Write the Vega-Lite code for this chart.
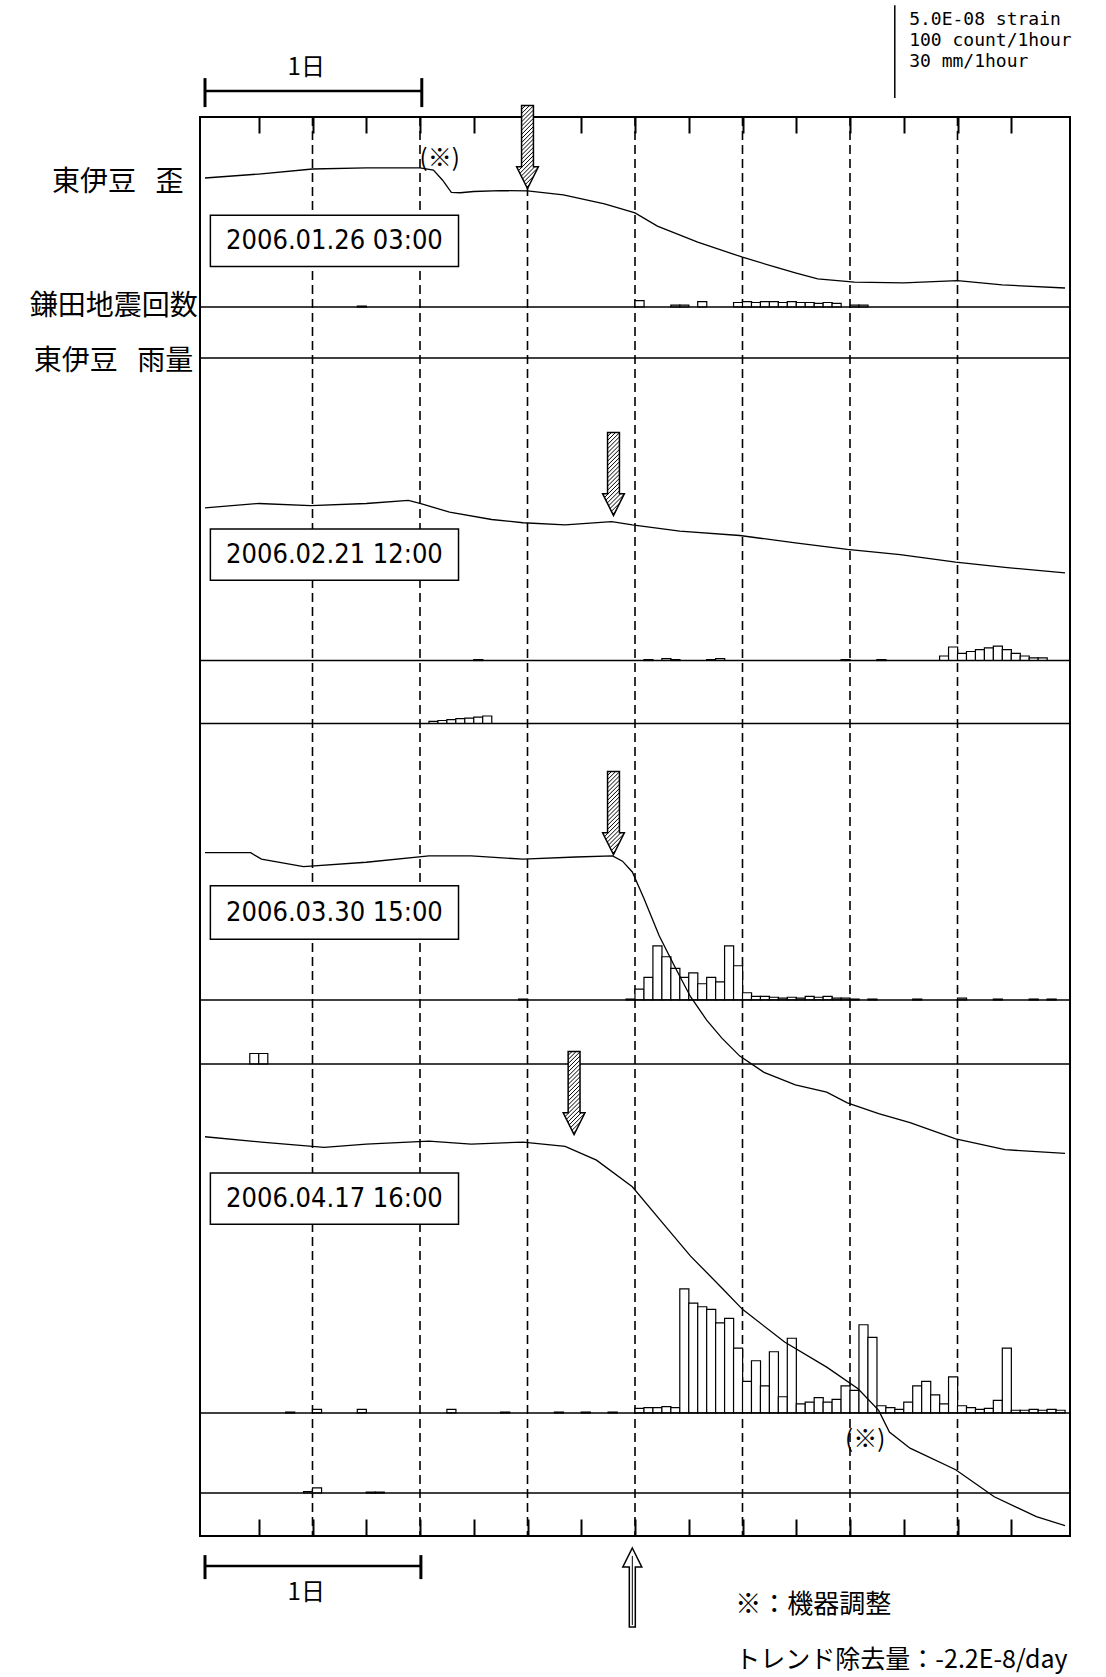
{
"$schema":"https://vega.github.io/schema/vega-lite/v6.json",
"width":870,"height":1419,
"autosize":{"type":"none"},
"padding":{"left":200,"top":117,"right":36,"bottom":141},
"background":"white",
"config":{"view":{"stroke":"black","strokeWidth":2},"text":{"font":"Noto Sans CJK JP","color":"black"}},
"datasets":{
"grid":[{"h":12},{"h":24},{"h":36},{"h":48},{"h":60},{"h":72},{"h":84}],
"strain":[
{"ep":1,"h":0,"s":0},{"ep":1,"h":6,"s":0.22},{"ep":1,"h":12,"s":0.5},{"ep":1,"h":18,"s":0.56},{"ep":1,"h":24,"s":0.56},{"ep":1,"h":25.5,"s":0.44},{"ep":1,"h":26.5,"s":-0.11},{"ep":1,"h":27.5,"s":-0.8},{"ep":1,"h":28.5,"s":-0.82},{"ep":1,"h":30,"s":-0.75},{"ep":1,"h":33,"s":-0.7},{"ep":1,"h":36,"s":-0.72},{"ep":1,"h":40,"s":-0.94},{"ep":1,"h":44.6,"s":-1.44},{"ep":1,"h":48,"s":-1.94},{"ep":1,"h":50.5,"s":-2.67},{"ep":1,"h":55,"s":-3.56},{"ep":1,"h":60,"s":-4.4},{"ep":1,"h":63.6,"s":-4.94},{"ep":1,"h":66,"s":-5.28},{"ep":1,"h":68.4,"s":-5.6},{"ep":1,"h":72.5,"s":-5.78},{"ep":1,"h":78,"s":-5.83},{"ep":1,"h":84,"s":-5.7},{"ep":1,"h":89,"s":-5.94},{"ep":1,"h":96,"s":-6.11},
{"ep":2,"h":0,"s":0},{"ep":2,"h":6,"s":0.24},{"ep":2,"h":11.8,"s":0.12},{"ep":2,"h":18,"s":0.24},{"ep":2,"h":22.7,"s":0.41},{"ep":2,"h":24,"s":0.24},{"ep":2,"h":27.3,"s":-0.24},{"ep":2,"h":32,"s":-0.65},{"ep":2,"h":35.5,"s":-0.83},{"ep":2,"h":40.2,"s":-0.95},{"ep":2,"h":45.4,"s":-0.77},{"ep":2,"h":47.7,"s":-0.95},{"ep":2,"h":53,"s":-1.3},{"ep":2,"h":59.7,"s":-1.54},{"ep":2,"h":65.9,"s":-1.95},{"ep":2,"h":71.7,"s":-2.31},{"ep":2,"h":77.6,"s":-2.6},{"ep":2,"h":83.8,"s":-3.02},{"ep":2,"h":89.3,"s":-3.31},{"ep":2,"h":96,"s":-3.61},
{"ep":3,"h":0,"s":0},{"ep":3,"h":5.1,"s":0},{"ep":3,"h":6.3,"s":-0.36},{"ep":3,"h":11,"s":-0.77},{"ep":3,"h":18,"s":-0.53},{"ep":3,"h":25,"s":-0.18},{"ep":3,"h":29.7,"s":-0.18},{"ep":3,"h":35.5,"s":-0.36},{"ep":3,"h":41.4,"s":-0.24},{"ep":3,"h":45.5,"s":-0.18},{"ep":3,"h":46.6,"s":-0.47},{"ep":3,"h":47.7,"s":-1.07},{"ep":3,"h":49,"s":-2.54},{"ep":3,"h":50.7,"s":-4.62},{"ep":3,"h":52.5,"s":-6.39},{"ep":3,"h":54.2,"s":-8.0},{"ep":3,"h":56,"s":-9.3},{"ep":3,"h":57.7,"s":-10.3},{"ep":3,"h":59.7,"s":-11.3},{"ep":3,"h":62.4,"s":-12.2},{"ep":3,"h":65.9,"s":-12.9},{"ep":3,"h":69.4,"s":-13.3},{"ep":3,"h":71.7,"s":-13.9},{"ep":3,"h":75.2,"s":-14.5},{"ep":3,"h":78.7,"s":-15.0},{"ep":3,"h":83.8,"s":-15.9},{"ep":3,"h":89.3,"s":-16.5},{"ep":3,"h":96,"s":-16.7},
{"ep":4,"h":0,"s":0},{"ep":4,"h":6.3,"s":-0.3},{"ep":4,"h":13.3,"s":-0.59},{"ep":4,"h":18,"s":-0.41},{"ep":4,"h":25,"s":-0.24},{"ep":4,"h":29.7,"s":-0.41},{"ep":4,"h":35.5,"s":-0.3},{"ep":4,"h":40.2,"s":-0.53},{"ep":4,"h":43.7,"s":-1.3},{"ep":4,"h":47.7,"s":-2.78},{"ep":4,"h":50.7,"s":-4.56},{"ep":4,"h":54.2,"s":-6.63},{"ep":4,"h":57.7,"s":-8.4},{"ep":4,"h":60,"s":-9.59},{"ep":4,"h":64.7,"s":-11.4},{"ep":4,"h":69.4,"s":-12.8},{"ep":4,"h":72.9,"s":-14.0},{"ep":4,"h":75.2,"s":-15.2},{"ep":4,"h":76.4,"s":-16.4},{"ep":4,"h":78.7,"s":-17.3},{"ep":4,"h":83.8,"s":-18.5},{"ep":4,"h":88.1,"s":-20.0},{"ep":4,"h":92.8,"s":-21.1},{"ep":4,"h":96,"s":-21.6}
],
"counts":[
{"ep":1,"h":17,"n":1},{"ep":1,"h":48,"n":7},{"ep":1,"h":52,"n":2},{"ep":1,"h":53,"n":2},{"ep":1,"h":55,"n":6},{"ep":1,"h":59,"n":5},{"ep":1,"h":60,"n":6},{"ep":1,"h":61,"n":5},{"ep":1,"h":62,"n":6},{"ep":1,"h":63,"n":6},{"ep":1,"h":64,"n":5},{"ep":1,"h":65,"n":6},{"ep":1,"h":66,"n":5},{"ep":1,"h":67,"n":5},{"ep":1,"h":68,"n":4},{"ep":1,"h":69,"n":5},{"ep":1,"h":70,"n":4},{"ep":1,"h":72,"n":2},{"ep":1,"h":73,"n":2},
{"ep":2,"h":30,"n":1},{"ep":2,"h":49,"n":1},{"ep":2,"h":51,"n":2},{"ep":2,"h":52,"n":1},{"ep":2,"h":56,"n":1},{"ep":2,"h":57,"n":2},{"ep":2,"h":71,"n":1},{"ep":2,"h":75,"n":1},{"ep":2,"h":82,"n":5},{"ep":2,"h":83,"n":15},{"ep":2,"h":84,"n":8},{"ep":2,"h":85,"n":10},{"ep":2,"h":86,"n":12},{"ep":2,"h":87,"n":14},{"ep":2,"h":88,"n":16},{"ep":2,"h":89,"n":12},{"ep":2,"h":90,"n":8},{"ep":2,"h":91,"n":5},{"ep":2,"h":92,"n":3},{"ep":2,"h":93,"n":3},
{"ep":3,"h":35,"n":1},{"ep":3,"h":47,"n":1},{"ep":3,"h":48,"n":12},{"ep":3,"h":49,"n":25},{"ep":3,"h":50,"n":60},{"ep":3,"h":51,"n":48},{"ep":3,"h":52,"n":35},{"ep":3,"h":53,"n":25},{"ep":3,"h":54,"n":30},{"ep":3,"h":55,"n":18},{"ep":3,"h":56,"n":25},{"ep":3,"h":57,"n":20},{"ep":3,"h":58,"n":60},{"ep":3,"h":59,"n":38},{"ep":3,"h":60,"n":8},{"ep":3,"h":61,"n":4},{"ep":3,"h":62,"n":4},{"ep":3,"h":63,"n":3},{"ep":3,"h":64,"n":2},{"ep":3,"h":65,"n":3},{"ep":3,"h":66,"n":2},{"ep":3,"h":67,"n":4},{"ep":3,"h":68,"n":3},{"ep":3,"h":69,"n":4},{"ep":3,"h":70,"n":2},{"ep":3,"h":71,"n":2},{"ep":3,"h":72,"n":1},{"ep":3,"h":74,"n":1},{"ep":3,"h":79,"n":1},{"ep":3,"h":84,"n":2},{"ep":3,"h":88,"n":1},{"ep":3,"h":92,"n":1},{"ep":3,"h":94,"n":1},
{"ep":4,"h":9,"n":1},{"ep":4,"h":12,"n":4},{"ep":4,"h":17,"n":4},{"ep":4,"h":27,"n":4},{"ep":4,"h":33,"n":1},{"ep":4,"h":39,"n":1},{"ep":4,"h":42,"n":1},{"ep":4,"h":45,"n":1},{"ep":4,"h":48,"n":5},{"ep":4,"h":49,"n":6},{"ep":4,"h":50,"n":6},{"ep":4,"h":51,"n":7},{"ep":4,"h":52,"n":6},{"ep":4,"h":53,"n":138},{"ep":4,"h":54,"n":122},{"ep":4,"h":55,"n":118},{"ep":4,"h":56,"n":115},{"ep":4,"h":57,"n":100},{"ep":4,"h":58,"n":105},{"ep":4,"h":59,"n":72},{"ep":4,"h":60,"n":35},{"ep":4,"h":61,"n":58},{"ep":4,"h":62,"n":30},{"ep":4,"h":63,"n":68},{"ep":4,"h":64,"n":18},{"ep":4,"h":65,"n":83},{"ep":4,"h":66,"n":10},{"ep":4,"h":67,"n":12},{"ep":4,"h":68,"n":17},{"ep":4,"h":69,"n":12},{"ep":4,"h":70,"n":15},{"ep":4,"h":71,"n":30},{"ep":4,"h":72,"n":25},{"ep":4,"h":73,"n":98},{"ep":4,"h":74,"n":84},{"ep":4,"h":75,"n":8},{"ep":4,"h":76,"n":6},{"ep":4,"h":77,"n":4},{"ep":4,"h":78,"n":12},{"ep":4,"h":79,"n":30},{"ep":4,"h":80,"n":35},{"ep":4,"h":81,"n":20},{"ep":4,"h":82,"n":10},{"ep":4,"h":83,"n":40},{"ep":4,"h":84,"n":8},{"ep":4,"h":85,"n":6},{"ep":4,"h":86,"n":4},{"ep":4,"h":87,"n":5},{"ep":4,"h":88,"n":14},{"ep":4,"h":89,"n":72},{"ep":4,"h":90,"n":3},{"ep":4,"h":91,"n":3},{"ep":4,"h":92,"n":4},{"ep":4,"h":93,"n":3},{"ep":4,"h":94,"n":4},{"ep":4,"h":95,"n":3}
],
"rain":[
{"ep":2,"h":25,"mm":0.7},{"ep":2,"h":26,"mm":1.0},{"ep":2,"h":27,"mm":1.3},{"ep":2,"h":28,"mm":1.6},{"ep":2,"h":29,"mm":1.8},{"ep":2,"h":30,"mm":2.1},{"ep":2,"h":31,"mm":2.5},
{"ep":3,"h":5,"mm":3.5},{"ep":3,"h":6,"mm":3.5},
{"ep":4,"h":11,"mm":0.5},{"ep":4,"h":12,"mm":1.7},{"ep":4,"h":18,"mm":0.3},{"ep":4,"h":19,"mm":0.3}
]
},
"layer":[
{"data":{"name":"grid"},"mark":{"type":"rule","stroke":"black","strokeWidth":1.6,"strokeDash":[9,5]},
 "encoding":{"x":{"field":"h","type":"quantitative","scale":{"domain":[0,96],"nice":false,"zero":false},"axis":{"orient":"bottom","values":[6,12,18,24,30,36,42,48,54,60,66,72,78,84,90],"tickSize":-17,"tickWidth":2,"tickColor":"black","labels":false,"domain":false,"grid":false,"title":null}}}},
{"data":{"name":"grid"},"mark":{"type":"rule","opacity":0},
 "encoding":{"x":{"field":"h","type":"quantitative","scale":{"domain":[0,96],"nice":false,"zero":false},"axis":{"orient":"top","values":[6,12,18,24,30,36,42,48,54,60,66,72,78,84,90],"tickSize":-16,"tickWidth":2,"tickColor":"black","labels":false,"domain":false,"grid":false,"title":null}}}},

{"layer":[
 {"data":{"name":"counts"},"transform":[{"filter":"datum.ep==1"}],"mark":{"type":"bar","width":9.06,"xOffset":4.53,"fill":"white","stroke":"black","strokeWidth":1.2},
  "encoding":{"x":{"field":"h","type":"quantitative","scale":{"domain":[0,96],"nice":false,"zero":false},"axis":null},"y":{"field":"n","type":"quantitative","scale":{"domain":[-1365.6,211.1],"nice":false,"zero":false},"axis":null},"y2":{"datum":0}}},
 {"data":{"values":[{}]},"mark":{"type":"rule","stroke":"black","strokeWidth":1.6},"encoding":{"y":{"datum":0,"type":"quantitative"}}},
 {"data":{"values":[{}]},"mark":{"type":"text","text":"鎌田地震回数","fontSize":28,"align":"right","baseline":"middle"},"encoding":{"x":{"datum":-0.8,"type":"quantitative"},"y":{"datum":0,"type":"quantitative"}}}
]},
{"layer":[
 {"data":{"name":"rain"},"transform":[{"filter":"datum.ep==1"}],"mark":{"type":"bar","width":9.06,"xOffset":4.53,"fill":"white","stroke":"black","strokeWidth":1.2},
  "encoding":{"x":{"field":"h","type":"quantitative","scale":{"domain":[0,96],"nice":false,"zero":false},"axis":null},"y":{"field":"mm","type":"quantitative","scale":{"domain":[-392.67,80.33],"nice":false,"zero":false},"axis":null},"y2":{"datum":0}}},
 {"data":{"values":[{}]},"mark":{"type":"rule","stroke":"black","strokeWidth":1.6},"encoding":{"y":{"datum":0,"type":"quantitative"}}},
 {"data":{"values":[{}]},"mark":{"type":"text","text":"東伊豆\u2002\u2009雨量","fontSize":28,"align":"right","baseline":"middle"},"encoding":{"x":{"datum":-1.3,"type":"quantitative"},"y":{"datum":-1.2,"type":"quantitative"}}}
]},
{"layer":[
 {"data":{"name":"counts"},"transform":[{"filter":"datum.ep==2"}],"mark":{"type":"bar","width":9.06,"xOffset":4.53,"fill":"white","stroke":"black","strokeWidth":1.2},
  "encoding":{"x":{"field":"h","type":"quantitative","scale":{"domain":[0,96],"nice":false,"zero":false},"axis":null},"y":{"field":"n","type":"quantitative","scale":{"domain":[-972.8,603.9],"nice":false,"zero":false},"axis":null},"y2":{"datum":0}}},
 {"data":{"values":[{}]},"mark":{"type":"rule","stroke":"black","strokeWidth":1.6},"encoding":{"y":{"datum":0,"type":"quantitative"}}}
]},
{"layer":[
 {"data":{"name":"rain"},"transform":[{"filter":"datum.ep==2"}],"mark":{"type":"bar","width":9.06,"xOffset":4.53,"fill":"white","stroke":"black","strokeWidth":1.2},
  "encoding":{"x":{"field":"h","type":"quantitative","scale":{"domain":[0,96],"nice":false,"zero":false},"axis":null},"y":{"field":"mm","type":"quantitative","scale":{"domain":[-270.83,202.17],"nice":false,"zero":false},"axis":null},"y2":{"datum":0}}},
 {"data":{"values":[{}]},"mark":{"type":"rule","stroke":"black","strokeWidth":1.6},"encoding":{"y":{"datum":0,"type":"quantitative"}}}
]},
{"layer":[
 {"data":{"name":"counts"},"transform":[{"filter":"datum.ep==3"}],"mark":{"type":"bar","width":9.06,"xOffset":4.53,"fill":"white","stroke":"black","strokeWidth":1.2},
  "encoding":{"x":{"field":"h","type":"quantitative","scale":{"domain":[0,96],"nice":false,"zero":false},"axis":null},"y":{"field":"n","type":"quantitative","scale":{"domain":[-595.6,981.1],"nice":false,"zero":false},"axis":null},"y2":{"datum":0}}},
 {"data":{"values":[{}]},"mark":{"type":"rule","stroke":"black","strokeWidth":1.6},"encoding":{"y":{"datum":0,"type":"quantitative"}}}
]},
{"layer":[
 {"data":{"name":"rain"},"transform":[{"filter":"datum.ep==3"}],"mark":{"type":"bar","width":9.06,"xOffset":4.53,"fill":"white","stroke":"black","strokeWidth":1.2},
  "encoding":{"x":{"field":"h","type":"quantitative","scale":{"domain":[0,96],"nice":false,"zero":false},"axis":null},"y":{"field":"mm","type":"quantitative","scale":{"domain":[-157.33,315.67],"nice":false,"zero":false},"axis":null},"y2":{"datum":0}}},
 {"data":{"values":[{}]},"mark":{"type":"rule","stroke":"black","strokeWidth":1.6},"encoding":{"y":{"datum":0,"type":"quantitative"}}}
]},
{"layer":[
 {"data":{"name":"counts"},"transform":[{"filter":"datum.ep==4"}],"mark":{"type":"bar","width":9.06,"xOffset":4.53,"fill":"white","stroke":"black","strokeWidth":1.2},
  "encoding":{"x":{"field":"h","type":"quantitative","scale":{"domain":[0,96],"nice":false,"zero":false},"axis":null},"y":{"field":"n","type":"quantitative","scale":{"domain":[-136.7,1440],"nice":false,"zero":false},"axis":null},"y2":{"datum":0}}},
 {"data":{"values":[{}]},"mark":{"type":"rule","stroke":"black","strokeWidth":1.6},"encoding":{"y":{"datum":0,"type":"quantitative"}}}
]},
{"layer":[
 {"data":{"name":"rain"},"transform":[{"filter":"datum.ep==4"}],"mark":{"type":"bar","width":9.06,"xOffset":4.53,"fill":"white","stroke":"black","strokeWidth":1.2},
  "encoding":{"x":{"field":"h","type":"quantitative","scale":{"domain":[0,96],"nice":false,"zero":false},"axis":null},"y":{"field":"mm","type":"quantitative","scale":{"domain":[-14.33,458.67],"nice":false,"zero":false},"axis":null},"y2":{"datum":0}}},
 {"data":{"values":[{}]},"mark":{"type":"rule","stroke":"black","strokeWidth":1.6},"encoding":{"y":{"datum":0,"type":"quantitative"}}},
 {"data":{"values":[{}]},"mark":{"type":"rule","stroke":"black","strokeWidth":2.5},"encoding":{"x":{"datum":0,"type":"quantitative"},"x2":{"datum":24.1},"y":{"datum":-24.3,"type":"quantitative"}}},
 {"data":{"values":[{}]},"mark":{"type":"rule","stroke":"black","strokeWidth":3},"encoding":{"x":{"datum":0,"type":"quantitative"},"y":{"datum":-20.7,"type":"quantitative"},"y2":{"datum":-28.7}}},
 {"data":{"values":[{}]},"mark":{"type":"rule","stroke":"black","strokeWidth":3},"encoding":{"x":{"datum":24.1,"type":"quantitative"},"y":{"datum":-20.7,"type":"quantitative"},"y2":{"datum":-28.7}}},
 {"data":{"values":[{}]},"mark":{"type":"text","text":"1日","fontSize":24,"align":"center","baseline":"middle"},"encoding":{"x":{"datum":11.3,"type":"quantitative"},"y":{"datum":-33.2,"type":"quantitative"}}},
 {"data":{"values":[{}]},"mark":{"type":"point","shape":"M0,-1L0.24,-0.52L0.076,-0.52L0.076,1L-0.076,1L-0.076,-0.52L-0.24,-0.52Z","size":6241,"filled":true,"fill":"white","stroke":"black","strokeWidth":1.5,"opacity":1},"encoding":{"x":{"datum":47.7,"type":"quantitative"},"y":{"datum":-31.5,"type":"quantitative"}}},
 {"data":{"values":[{}]},"mark":{"type":"point","shape":"M0,-0.8L0,0.95","size":6241,"filled":false,"stroke":"black","strokeWidth":1,"opacity":1},"encoding":{"x":{"datum":47.7,"type":"quantitative"},"y":{"datum":-31.5,"type":"quantitative"}}},
 {"data":{"values":[{}]},"mark":{"type":"text","text":"※：機器調整","fontSize":26,"align":"left","baseline":"middle"},"encoding":{"x":{"datum":59.2,"type":"quantitative"},"y":{"datum":-37.3,"type":"quantitative"}}},
 {"data":{"values":[{}]},"mark":{"type":"text","text":"トレンド除去量：-2.2E-8/day","fontSize":25,"align":"left","baseline":"middle"},"encoding":{"x":{"datum":59.2,"type":"quantitative"},"y":{"datum":-55.7,"type":"quantitative"}}}
]},

{"layer":[
 {"data":{"name":"strain"},"transform":[{"filter":"datum.ep==1"}],"mark":{"type":"line","stroke":"black","strokeWidth":1.3},
  "encoding":{"x":{"field":"h","type":"quantitative","scale":{"domain":[0,96],"nice":false,"zero":false},"axis":null},"y":{"field":"s","type":"quantitative","scale":{"domain":[-75.44,3.389],"nice":false,"zero":false},"axis":null}}},
 {"data":{"values":[{}]},"mark":{"type":"rect","fill":"white","stroke":"black","strokeWidth":1.5},"encoding":{"x":{"datum":0.6,"type":"quantitative"},"x2":{"datum":28.3},"y":{"datum":-2.07,"type":"quantitative"},"y2":{"datum":-4.92}}},
 {"data":{"values":[{}]},"mark":{"type":"text","text":"2006.01.26 03:00","font":"DejaVu Sans Condensed, Liberation Sans Narrow, DejaVu Sans","fontSize":27,"align":"center","baseline":"middle"},"encoding":{"x":{"datum":14.45,"type":"quantitative"},"y":{"datum":-3.5,"type":"quantitative"}}},
 {"data":{"values":[{}]},"mark":{"type":"point","shape":"M-0.143,-1L0.143,-1L0.143,0.476L0.262,0.476L0,1L-0.262,0.476L-0.143,0.476Z","size":6889,"filled":true,"fill":"white","stroke":"black","strokeWidth":1.5,"opacity":1},"encoding":{"x":{"datum":36,"type":"quantitative"},"y":{"datum":1.72,"type":"quantitative"}}},
 {"data":{"values":[{}]},"mark":{"type":"point","shape":"M-0.143,-0.907L-0.05,-1M-0.143,-0.807L0.05,-1M-0.143,-0.707L0.143,-0.993M-0.143,-0.607L0.143,-0.893M-0.143,-0.507L0.143,-0.793M-0.143,-0.407L0.143,-0.693M-0.143,-0.307L0.143,-0.593M-0.143,-0.207L0.143,-0.493M-0.143,-0.107L0.143,-0.393M-0.143,-0.007L0.143,-0.293M-0.143,0.093L0.143,-0.193M-0.143,0.193L0.143,-0.093M-0.143,0.293L0.143,0.007M-0.143,0.393L0.143,0.107M-0.217,0.567L0.143,0.207M-0.183,0.633L0.143,0.307M-0.15,0.7L0.143,0.407M-0.117,0.767L0.174,0.476M-0.083,0.833L0.25,0.5M-0.05,0.9L0.15,0.7M-0.017,0.967L0.05,0.9","size":6889,"filled":false,"stroke":"black","strokeWidth":1,"opacity":1},"encoding":{"x":{"datum":36,"type":"quantitative"},"y":{"datum":1.72,"type":"quantitative"}}},
 {"data":{"values":[{}]},"mark":{"type":"text","text":"(※)","fontSize":24,"align":"center","baseline":"middle"},"encoding":{"x":{"datum":26.2,"type":"quantitative"},"y":{"datum":1.07,"type":"quantitative"}}},
 {"data":{"values":[{}]},"mark":{"type":"text","text":"東伊豆\u2002\u2009歪","fontSize":28,"align":"right","baseline":"middle"},"encoding":{"x":{"datum":-2.4,"type":"quantitative"},"y":{"datum":-0.27,"type":"quantitative"}}},
 {"data":{"values":[{}]},"mark":{"type":"rule","stroke":"black","strokeWidth":1.5},"encoding":{"x":{"datum":77,"type":"quantitative"},"y":{"datum":9.6,"type":"quantitative"},"y2":{"datum":4.44}}},
 {"data":{"values":[{}]},"mark":{"type":"text","text":["5.0E-08 strain","100 count/1hour","30 mm/1hour"],"font":"DejaVu Sans Mono","fontSize":18,"lineHeight":21,"align":"left","baseline":"top"},"encoding":{"x":{"datum":78.6,"type":"quantitative"},"y":{"datum":9.25,"type":"quantitative"}}},
 {"data":{"values":[{}]},"mark":{"type":"rule","stroke":"black","strokeWidth":2.5},"encoding":{"x":{"datum":0,"type":"quantitative"},"x2":{"datum":24.2},"y":{"datum":4.83,"type":"quantitative"}}},
 {"data":{"values":[{}]},"mark":{"type":"rule","stroke":"black","strokeWidth":3},"encoding":{"x":{"datum":0,"type":"quantitative"},"y":{"datum":3.94,"type":"quantitative"},"y2":{"datum":5.55}}},
 {"data":{"values":[{}]},"mark":{"type":"rule","stroke":"black","strokeWidth":3},"encoding":{"x":{"datum":24.2,"type":"quantitative"},"y":{"datum":3.94,"type":"quantitative"},"y2":{"datum":5.55}}},
 {"data":{"values":[{}]},"mark":{"type":"text","text":"1日","fontSize":24,"align":"center","baseline":"middle"},"encoding":{"x":{"datum":11.3,"type":"quantitative"},"y":{"datum":6.11,"type":"quantitative"}}}
]},
{"layer":[
 {"data":{"name":"strain"},"transform":[{"filter":"datum.ep==2"}],"mark":{"type":"line","stroke":"black","strokeWidth":1.3},
  "encoding":{"x":{"field":"h","type":"quantitative","scale":{"domain":[0,96],"nice":false,"zero":false},"axis":null},"y":{"field":"s","type":"quantitative","scale":{"domain":[-57.12,21.71],"nice":false,"zero":false},"axis":null}}},
 {"data":{"values":[{}]},"mark":{"type":"rect","fill":"white","stroke":"black","strokeWidth":1.5},"encoding":{"x":{"datum":0.6,"type":"quantitative"},"x2":{"datum":28.3},"y":{"datum":-1.18,"type":"quantitative"},"y2":{"datum":-4.03}}},
 {"data":{"values":[{}]},"mark":{"type":"text","text":"2006.02.21 12:00","font":"DejaVu Sans Condensed, Liberation Sans Narrow, DejaVu Sans","fontSize":27,"align":"center","baseline":"middle"},"encoding":{"x":{"datum":14.45,"type":"quantitative"},"y":{"datum":-2.6,"type":"quantitative"}}},
 {"data":{"values":[{}]},"mark":{"type":"point","shape":"M-0.143,-1L0.143,-1L0.143,0.476L0.262,0.476L0,1L-0.262,0.476L-0.143,0.476Z","size":6889,"filled":true,"fill":"white","stroke":"black","strokeWidth":1.5,"opacity":1},"encoding":{"x":{"datum":45.6,"type":"quantitative"},"y":{"datum":1.88,"type":"quantitative"}}},
 {"data":{"values":[{}]},"mark":{"type":"point","shape":"M-0.143,-0.907L-0.05,-1M-0.143,-0.807L0.05,-1M-0.143,-0.707L0.143,-0.993M-0.143,-0.607L0.143,-0.893M-0.143,-0.507L0.143,-0.793M-0.143,-0.407L0.143,-0.693M-0.143,-0.307L0.143,-0.593M-0.143,-0.207L0.143,-0.493M-0.143,-0.107L0.143,-0.393M-0.143,-0.007L0.143,-0.293M-0.143,0.093L0.143,-0.193M-0.143,0.193L0.143,-0.093M-0.143,0.293L0.143,0.007M-0.143,0.393L0.143,0.107M-0.217,0.567L0.143,0.207M-0.183,0.633L0.143,0.307M-0.15,0.7L0.143,0.407M-0.117,0.767L0.174,0.476M-0.083,0.833L0.25,0.5M-0.05,0.9L0.15,0.7M-0.017,0.967L0.05,0.9","size":6889,"filled":false,"stroke":"black","strokeWidth":1,"opacity":1},"encoding":{"x":{"datum":45.6,"type":"quantitative"},"y":{"datum":1.88,"type":"quantitative"}}}
]},
{"layer":[
 {"data":{"name":"strain"},"transform":[{"filter":"datum.ep==3"}],"mark":{"type":"line","stroke":"black","strokeWidth":1.3},
  "encoding":{"x":{"field":"h","type":"quantitative","scale":{"domain":[0,96],"nice":false,"zero":false},"axis":null},"y":{"field":"s","type":"quantitative","scale":{"domain":[-37.96,40.87],"nice":false,"zero":false},"axis":null}}},
 {"data":{"values":[{}]},"mark":{"type":"rect","fill":"white","stroke":"black","strokeWidth":1.5},"encoding":{"x":{"datum":0.6,"type":"quantitative"},"x2":{"datum":28.3},"y":{"datum":-1.84,"type":"quantitative"},"y2":{"datum":-4.81}}},
 {"data":{"values":[{}]},"mark":{"type":"text","text":"2006.03.30 15:00","font":"DejaVu Sans Condensed, Liberation Sans Narrow, DejaVu Sans","fontSize":27,"align":"center","baseline":"middle"},"encoding":{"x":{"datum":14.45,"type":"quantitative"},"y":{"datum":-3.33,"type":"quantitative"}}},
 {"data":{"values":[{}]},"mark":{"type":"point","shape":"M-0.143,-1L0.143,-1L0.143,0.476L0.262,0.476L0,1L-0.262,0.476L-0.143,0.476Z","size":6889,"filled":true,"fill":"white","stroke":"black","strokeWidth":1.5,"opacity":1},"encoding":{"x":{"datum":45.6,"type":"quantitative"},"y":{"datum":2.2,"type":"quantitative"}}},
 {"data":{"values":[{}]},"mark":{"type":"point","shape":"M-0.143,-0.907L-0.05,-1M-0.143,-0.807L0.05,-1M-0.143,-0.707L0.143,-0.993M-0.143,-0.607L0.143,-0.893M-0.143,-0.507L0.143,-0.793M-0.143,-0.407L0.143,-0.693M-0.143,-0.307L0.143,-0.593M-0.143,-0.207L0.143,-0.493M-0.143,-0.107L0.143,-0.393M-0.143,-0.007L0.143,-0.293M-0.143,0.093L0.143,-0.193M-0.143,0.193L0.143,-0.093M-0.143,0.293L0.143,0.007M-0.143,0.393L0.143,0.107M-0.217,0.567L0.143,0.207M-0.183,0.633L0.143,0.307M-0.15,0.7L0.143,0.407M-0.117,0.767L0.174,0.476M-0.083,0.833L0.25,0.5M-0.05,0.9L0.15,0.7M-0.017,0.967L0.05,0.9","size":6889,"filled":false,"stroke":"black","strokeWidth":1,"opacity":1},"encoding":{"x":{"datum":45.6,"type":"quantitative"},"y":{"datum":2.2,"type":"quantitative"}}}
]},
{"layer":[
 {"data":{"name":"strain"},"transform":[{"filter":"datum.ep==4"}],"mark":{"type":"line","stroke":"black","strokeWidth":1.3},
  "encoding":{"x":{"field":"h","type":"quantitative","scale":{"domain":[0,96],"nice":false,"zero":false},"axis":null},"y":{"field":"s","type":"quantitative","scale":{"domain":[-22.18,56.65],"nice":false,"zero":false},"axis":null}}},
 {"data":{"values":[{}]},"mark":{"type":"rect","fill":"white","stroke":"black","strokeWidth":1.5},"encoding":{"x":{"datum":0.6,"type":"quantitative"},"x2":{"datum":28.3},"y":{"datum":-2.02,"type":"quantitative"},"y2":{"datum":-4.86}}},
 {"data":{"values":[{}]},"mark":{"type":"text","text":"2006.04.17 16:00","font":"DejaVu Sans Condensed, Liberation Sans Narrow, DejaVu Sans","fontSize":27,"align":"center","baseline":"middle"},"encoding":{"x":{"datum":14.45,"type":"quantitative"},"y":{"datum":-3.44,"type":"quantitative"}}},
 {"data":{"values":[{}]},"mark":{"type":"point","shape":"M-0.143,-1L0.143,-1L0.143,0.476L0.262,0.476L0,1L-0.262,0.476L-0.143,0.476Z","size":6889,"filled":true,"fill":"white","stroke":"black","strokeWidth":1.5,"opacity":1},"encoding":{"x":{"datum":41.2,"type":"quantitative"},"y":{"datum":2.43,"type":"quantitative"}}},
 {"data":{"values":[{}]},"mark":{"type":"point","shape":"M-0.143,-0.907L-0.05,-1M-0.143,-0.807L0.05,-1M-0.143,-0.707L0.143,-0.993M-0.143,-0.607L0.143,-0.893M-0.143,-0.507L0.143,-0.793M-0.143,-0.407L0.143,-0.693M-0.143,-0.307L0.143,-0.593M-0.143,-0.207L0.143,-0.493M-0.143,-0.107L0.143,-0.393M-0.143,-0.007L0.143,-0.293M-0.143,0.093L0.143,-0.193M-0.143,0.193L0.143,-0.093M-0.143,0.293L0.143,0.007M-0.143,0.393L0.143,0.107M-0.217,0.567L0.143,0.207M-0.183,0.633L0.143,0.307M-0.15,0.7L0.143,0.407M-0.117,0.767L0.174,0.476M-0.083,0.833L0.25,0.5M-0.05,0.9L0.15,0.7M-0.017,0.967L0.05,0.9","size":6889,"filled":false,"stroke":"black","strokeWidth":1,"opacity":1},"encoding":{"x":{"datum":41.2,"type":"quantitative"},"y":{"datum":2.43,"type":"quantitative"}}},
 {"data":{"values":[{}]},"mark":{"type":"text","text":"(※)","fontSize":24,"align":"center","baseline":"middle"},"encoding":{"x":{"datum":73.7,"type":"quantitative"},"y":{"datum":-16.84,"type":"quantitative"}}}
]}
],
"resolve":{"scale":{"y":"independent"},"axis":{"x":"independent"}}
}
